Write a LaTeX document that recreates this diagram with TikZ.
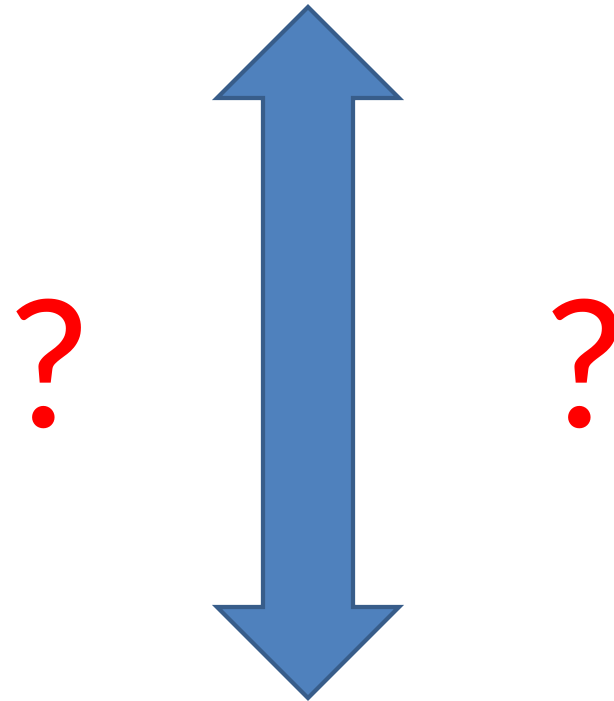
\documentclass[tikz,border=0pt]{standalone}
\usepackage{fontspec}
\setmainfont{Carlito}
\begin{document}
\begin{tikzpicture}[x=0.02cm, y=-0.02cm, line join=miter]
  \definecolor{arrowblue}{HTML}{4F81BD}
  \definecolor{arrowedge}{HTML}{385D8A}
  \tikzset{query/.style={red, font=\fontsize{107}{107}\selectfont, inner sep=0pt, anchor=base}}
  \useasboundingbox (0,0) rectangle (613,701);
  % double arrow
  \draw[line width=2.3pt, draw=arrowedge, fill=arrowblue]
    (308,7) -- (399,98) -- (353,98) -- (353,607) -- (399,607) -- (308,698)
    -- (217,607) -- (263,607) -- (263,98) -- (217,98) -- cycle;
  \node[query] (qleft) at (49,427) {?};
  \node[query] (qright) at (585,427) {?};
\end{tikzpicture}
\end{document}
